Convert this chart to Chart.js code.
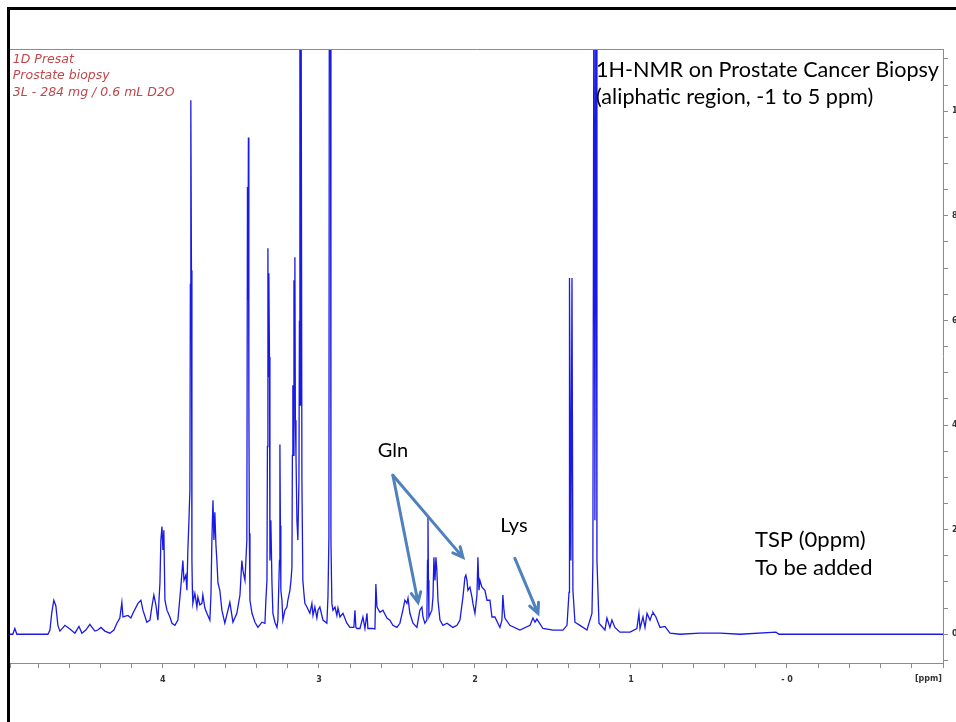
<!DOCTYPE html>
<html>
<head>
<meta charset="utf-8">
<script src="https://cdn.jsdelivr.net/npm/chart.js@4.4.1/dist/chart.umd.min.js"></script>
<style>
  html, body { margin: 0; padding: 0; background: #fff; }
</style>
</head>
<body>
<canvas id="nmrChart" width="956" height="722"></canvas>
<script>
// chemical shift (ppm) and intensity, high ppm -> low ppm
const shifts = [
  4.98, 4.962, 4.949, 4.936, 4.737, 4.724, 4.712, 4.699, 4.686, 4.673, 4.660, 4.628, 4.596, 4.564,
  4.538, 4.519, 4.494, 4.468, 4.436, 4.417, 4.397, 4.372, 4.340, 4.314, 4.295, 4.276, 4.263, 4.256,
  4.224, 4.205, 4.192, 4.160, 4.141, 4.128, 4.103, 4.083, 4.071, 4.058, 4.045, 4.032, 4.019, 4.013,
  4.006, 4.000, 3.994, 3.987, 3.974, 3.955, 3.942, 3.923, 3.904, 3.885, 3.872, 3.865, 3.853, 3.846,
  3.840, 3.833, 3.827, 3.824, 3.821, 3.817, 3.814, 3.811, 3.808, 3.795, 3.782, 3.776, 3.763, 3.750,
  3.744, 3.731, 3.718, 3.699, 3.692, 3.686, 3.679, 3.673, 3.667, 3.660, 3.654, 3.647, 3.635, 3.622,
  3.603, 3.583, 3.571, 3.551, 3.526, 3.506, 3.494, 3.487, 3.474, 3.468, 3.462, 3.458, 3.455, 3.452,
  3.449, 3.446, 3.442, 3.429, 3.410, 3.391, 3.365, 3.346, 3.340, 3.333, 3.330, 3.327, 3.324, 3.321,
  3.317, 3.314, 3.308, 3.301, 3.295, 3.282, 3.269, 3.263, 3.253, 3.250, 3.247, 3.244, 3.237, 3.231,
  3.218, 3.205, 3.199, 3.186, 3.179, 3.173, 3.170, 3.167, 3.163, 3.160, 3.157, 3.154, 3.151, 3.147,
  3.141, 3.135, 3.128, 3.125, 3.122, 3.119, 3.115, 3.109, 3.103, 3.096, 3.090, 3.077, 3.058, 3.045,
  3.038, 3.026, 3.013, 3.006, 2.994, 2.974, 2.949, 2.942, 2.936, 2.933, 2.926, 2.923, 2.917, 2.910,
  2.897, 2.885, 2.878, 2.865, 2.846, 2.821, 2.801, 2.776, 2.769, 2.763, 2.756, 2.737, 2.718, 2.705,
  2.692, 2.686, 2.660, 2.641, 2.635, 2.628, 2.609, 2.590, 2.564, 2.545, 2.526, 2.500, 2.481, 2.462,
  2.449, 2.436, 2.429, 2.417, 2.397, 2.372, 2.353, 2.340, 2.333, 2.321, 2.308, 2.304, 2.301, 2.298,
  2.295, 2.276, 2.269, 2.263, 2.256, 2.250, 2.244, 2.237, 2.224, 2.205, 2.179, 2.160, 2.141, 2.115,
  2.096, 2.077, 2.064, 2.058, 2.051, 2.045, 2.032, 2.019, 2.013, 2.000, 1.987, 1.981, 1.974, 1.968,
  1.955, 1.936, 1.923, 1.904, 1.891, 1.872, 1.840, 1.827, 1.821, 1.814, 1.808, 1.776, 1.712, 1.647,
  1.628, 1.615, 1.603, 1.564, 1.500, 1.436, 1.410, 1.397, 1.394, 1.385, 1.378, 1.372, 1.359, 1.327,
  1.282, 1.250, 1.244, 1.237, 1.231, 1.224, 1.218, 1.205, 1.167, 1.154, 1.135, 1.122, 1.103, 1.071,
  1.006, 0.962, 0.949, 0.942, 0.936, 0.923, 0.910, 0.897, 0.878, 0.865, 0.859, 0.840, 0.814, 0.782,
  0.750, 0.686, 0.558, 0.429, 0.301, 0.071, 0.051, -1.0
];
const intensities = [
  0, 0, 0.11, 0, 0, 0.08, 0.42, 0.65, 0.54, 0.17, 0.06, 0.17, 0.10, 0.02,
  0.15, 0.02, 0.08, 0.19, 0.06, 0.08, 0.13, 0.06, 0.02, 0.08, 0.21, 0.31, 0.61, 0.33,
  0.36, 0.31, 0.40, 0.59, 0.65, 0.46, 0.23, 0.27, 0.52, 0.75, 0.56, 0.27, 0.98, 1.80,
  2.06, 1.61, 1.99, 0.65, 0.46, 0.33, 0.21, 0.17, 0.27, 0.90, 1.41, 1.03, 1.13, 0.84,
  1.61, 2.18, 2.75, 6.69, 10.21, 6.96, 1.41, 0.84, 0.59, 0.78, 0.52, 0.71, 0.56, 0.59,
  0.75, 0.50, 0.40, 0.27, 0.75, 1.80, 2.56, 1.80, 2.33, 1.70, 1.41, 0.98, 0.84, 0.46,
  0.21, 0.46, 0.61, 0.23, 0.40, 0.75, 1.41, 1.22, 1.03, 1.41, 1.80, 8.55, 6.39, 9.50,
  4.47, 1.93, 0.65, 0.40, 0.23, 0.13, 0.23, 0.21, 0.65, 1.03, 3.59, 7.38, 4.93, 6.90,
  5.30, 1.41, 2.18, 0.98, 0.40, 0.23, 0.13, 0.27, 1.41, 3.63, 2.08, 0.84, 0.65, 0.27,
  0.46, 0.52, 0.65, 0.84, 1.03, 1.28, 3.42, 4.76, 3.42, 6.77, 5.24, 7.21, 4.09, 3.42,
  2.18, 1.80, 2.94, 5.98, 14, 4.38, 14, 2.94, 1.03, 0.78, 0.59, 0.52, 0.40, 0.59,
  0.36, 0.52, 0.31, 0.46, 0.52, 0.27, 0.21, 0.71, 1.85, 14, 14, 1.80, 0.59, 0.46,
  0.52, 0.36, 0.50, 0.33, 0.40, 0.21, 0.13, 0.13, 0.46, 0.13, 0.11, 0.11, 0.33, 0.11,
  0.40, 0.11, 0.11, 0.10, 0.96, 0.52, 0.42, 0.46, 0.31, 0.27, 0.17, 0.13, 0.21, 0.46,
  0.65, 0.59, 0.69, 0.40, 0.21, 0.13, 0.46, 0.52, 0.33, 0.21, 0.27, 1.41, 2.24, 1.03,
  0.33, 0.46, 0.71, 1.47, 1.03, 1.47, 1.22, 0.65, 0.27, 0.17, 0.21, 0.17, 0.13, 0.17,
  0.27, 0.71, 1.09, 1.13, 1.03, 0.84, 0.90, 0.71, 0.59, 0.40, 0.75, 1.47, 0.84, 1.03,
  0.90, 0.84, 0.65, 0.65, 0.33, 0.33, 0.13, 0.27, 0.75, 0.46, 0.31, 0.17, 0.08, 0.17,
  0.31, 0.23, 0.29, 0.11, 0.08, 0.08, 0.17, 0.80, 6.81, 1.41, 6.81, 0.84, 0.23, 0.17,
  0.08, 0.40, 1.36, 14, 2.18, 14, 1.41, 0.21, 0.08, 0.31, 0.13, 0.27, 0.13, 0.04,
  0.04, 0.11, 0.40, 0.11, 0.11, 0.33, 0.13, 0.40, 0.27, 0.38, 0.42, 0.33, 0.13, 0.15,
  0.02, 0, 0.02, 0.02, 0, 0.04, 0, 0
];

// axes
const ppmMin = -1.0;
const ppmMax = 4.98;
const intMin = -0.55;
const intMax = 11.19;
const ppmMajor = [4, 3, 2, 1, 0];
const ppmMajorLabels = ['4', '3', '2', '1', '- 0'];
const intMajor = [0, 2, 4, 6, 8, 10];

// texts
const infoLines = ['1D Presat', 'Prostate biopsy', '3L - 284 mg / 0.6 mL D2O'];
const titleLines = ['1H-NMR on Prostate Cancer Biopsy', '(aliphatic region, -1 to 5 ppm)'];
const tspLines = ['TSP (0ppm)', 'To be added'];

// annotations, in ppm / intensity
const noteLabels = ['Gln', 'Lys'];
const notePpm = [2.526, 1.75];
const noteInt = [3.52, 2.08];
const arrowFromPpm = [2.526, 2.526, 1.744];
const arrowFromInt = [3.04, 3.04, 1.45];
const arrowToPpm = [2.365, 2.077, 1.596];
const arrowToInt = [0.61, 1.47, 0.40];

const points = shifts.map((s, i) => ({ x: s, y: intensities[i] }));

function stepTicks(from, to, step) {
  const t = [];
  for (let v = from; v <= to + 1e-9; v += step) t.push({ value: Math.round(v * 10) / 10 });
  return t;
}

const overlay = {
  id: 'overlay',
  afterDraw(chart) {
    const { ctx, chartArea: a } = chart;
    const x = chart.scales.x, y = chart.scales.y;
    ctx.save();

    // top edge of the plot box
    ctx.strokeStyle = '#8c8c8c';
    ctx.lineWidth = 1;
    ctx.beginPath();
    ctx.moveTo(a.left, Math.round(a.top) + 0.5);
    ctx.lineTo(a.right, Math.round(a.top) + 0.5);
    ctx.stroke();

    // unit label at the end of the ppm axis
    ctx.fillStyle = '#333';
    ctx.font = 'bold 8px "DejaVu Sans"';
    ctx.textAlign = 'right';
    ctx.textBaseline = 'middle';
    ctx.fillText('[ppm]', a.right - 1, 679);

    // slide frame
    ctx.fillStyle = '#000';
    ctx.fillRect(7, 7, chart.width - 7, 3);
    ctx.fillRect(7, 7, 3, chart.height - 7);

    // acquisition info
    ctx.fillStyle = '#c0474b';
    ctx.font = 'italic 12.5px "DejaVu Sans"';
    ctx.textAlign = 'left';
    ctx.textBaseline = 'middle';
    const infoInt = [10.98, 10.67, 10.36];
    infoLines.forEach((t, i) => ctx.fillText(t, x.getPixelForValue(4.962), y.getPixelForValue(infoInt[i])));

    // title
    ctx.fillStyle = '#000';
    ctx.font = '21.6px Lato';
    const titleInt = [10.78, 10.27];
    titleLines.forEach((t, i) => ctx.fillText(t, x.getPixelForValue(1.224), y.getPixelForValue(titleInt[i])));

    // TSP note
    ctx.font = '22px Lato';
    const tspInt = [1.80, 1.26];
    tspLines.forEach((t, i) => ctx.fillText(t, x.getPixelForValue(0.205), y.getPixelForValue(tspInt[i])));

    // metabolite labels
    ctx.font = '20px Lato';
    ctx.textAlign = 'center';
    noteLabels.forEach((t, i) => ctx.fillText(t, x.getPixelForValue(notePpm[i]), y.getPixelForValue(noteInt[i])));

    // arrows
    ctx.strokeStyle = '#4f81bd';
    ctx.lineWidth = 3;
    ctx.lineCap = 'round';
    arrowFromPpm.forEach((p, i) => {
      const x0 = x.getPixelForValue(p), y0 = y.getPixelForValue(arrowFromInt[i]);
      const x1 = x.getPixelForValue(arrowToPpm[i]), y1 = y.getPixelForValue(arrowToInt[i]);
      const ang = Math.atan2(y1 - y0, x1 - x0);
      ctx.beginPath();
      ctx.moveTo(x0, y0);
      ctx.lineTo(x1, y1);
      ctx.moveTo(x1 - 11 * Math.cos(ang - 0.45), y1 - 11 * Math.sin(ang - 0.45));
      ctx.lineTo(x1, y1);
      ctx.lineTo(x1 - 11 * Math.cos(ang + 0.45), y1 - 11 * Math.sin(ang + 0.45));
      ctx.stroke();
    });

    ctx.restore();
  }
};

new Chart(document.getElementById('nmrChart').getContext('2d'), {
  type: 'line',
  data: {
    datasets: [{
      data: points,
      borderColor: '#1a1ae6',
      borderWidth: 1.3,
      pointRadius: 0,
      tension: 0,
      fill: false
    }]
  },
  options: {
    responsive: false,
    animation: false,
    parsing: false,
    normalized: true,
    layout: { padding: { left: 10, top: 49, right: 0, bottom: 0 } },
    plugins: {
      legend: { display: false },
      tooltip: { enabled: false }
    },
    scales: {
      x: {
        type: 'linear',
        reverse: true,
        min: ppmMin,
        max: ppmMax,
        afterBuildTicks: (scale) => {
          const t = stepTicks(-1, 4.8, 0.2);
          t.push({ value: ppmMax });
          scale.ticks = t;
        },
        afterFit: (scale) => { scale.height = 59; },
        grid: { drawOnChartArea: false, tickLength: 5, color: '#8c8c8c' },
        border: { color: '#8c8c8c' },
        ticks: {
          autoSkip: false,
          maxRotation: 0,
          padding: 7,
          color: '#333',
          font: { family: 'DejaVu Sans', size: 8, weight: 'bold' },
          callback: (v) => {
            const k = ppmMajor.indexOf(v);
            return k >= 0 ? ppmMajorLabels[k] : '';
          }
        }
      },
      y: {
        type: 'linear',
        position: 'right',
        min: intMin,
        max: intMax,
        afterBuildTicks: (scale) => { scale.ticks = stepTicks(-0.5, 11, 0.5); },
        afterFit: (scale) => { scale.width = 13; },
        grid: { drawOnChartArea: false, tickLength: 5, color: '#8c8c8c' },
        border: { color: '#8c8c8c' },
        ticks: {
          autoSkip: false,
          padding: 4,
          color: '#333',
          font: { family: 'DejaVu Sans', size: 8, weight: 'bold' },
          callback: (v) => intMajor.includes(v) ? String(v) : ''
        }
      }
    }
  },
  plugins: [overlay]
});
</script>
</body>
</html>
